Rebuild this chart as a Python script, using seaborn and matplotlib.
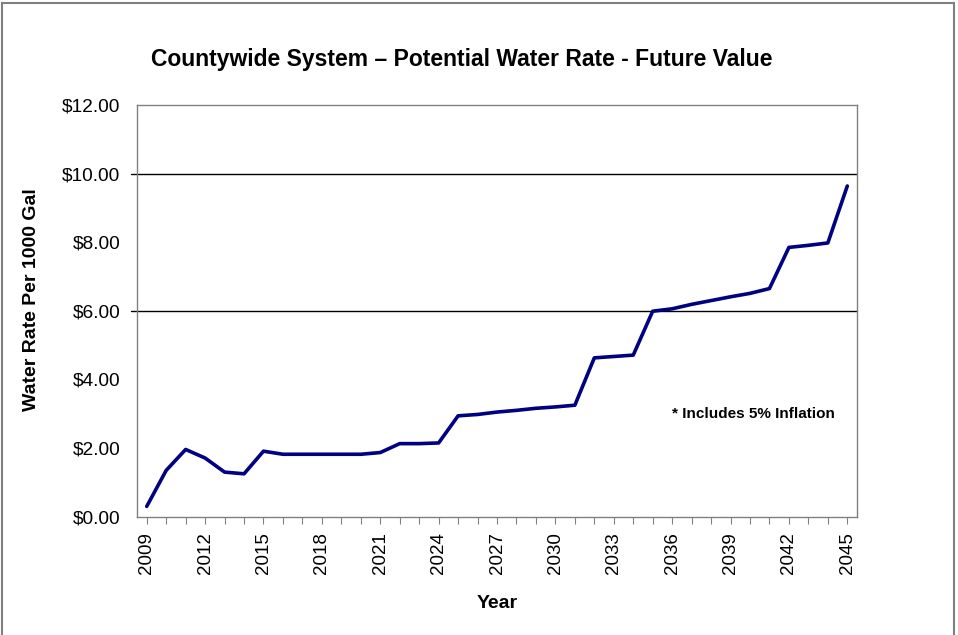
import matplotlib
matplotlib.use("Agg")
import matplotlib.pyplot as plt
import seaborn as sns
import pandas as pd
from matplotlib.patches import Rectangle

years = list(range(2009, 2046))
rates = [0.30, 1.35, 1.96, 1.71, 1.30, 1.25, 1.91, 1.82, 1.82, 1.82,
         1.82, 1.82, 1.87, 2.13, 2.13, 2.15, 2.94, 2.98, 3.05, 3.10,
         3.16, 3.20, 3.25, 4.63, 4.67, 4.71, 5.99, 6.06, 6.19, 6.30,
         6.41, 6.51, 6.65, 7.85, 7.91, 7.98, 9.64]
year_ticks = list(range(2009, 2046, 3))
rate_ticks = [0, 2, 4, 6, 8, 10, 12]
rate_labels = ["$0.00", "$2.00", "$4.00", "$6.00", "$8.00", "$10.00", "$12.00"]
grid_values = [6, 10]

df = pd.DataFrame({"Year": years, "Rate": rates})

sns.set_style("white")
plt.rcParams["font.family"] = ["Liberation Sans", "DejaVu Sans"]
plt.rcParams["text.color"] = "black"
plt.rcParams["axes.labelcolor"] = "black"
plt.rcParams["xtick.color"] = "black"
plt.rcParams["ytick.color"] = "black"

fig = plt.figure(figsize=(9.58, 6.35), dpi=100)
ax = fig.add_axes([0.143, 0.1863, 0.7516, 0.6483])

for g in grid_values:
    ax.axhline(g, color="black", lw=1.0, xmin=-0.008, xmax=1, clip_on=False, zorder=1)

sns.lineplot(data=df, x="Year", y="Rate", ax=ax, color="#000080", lw=2.6, zorder=3)

ax.set_xlim(2008.5, 2045.5)
ax.set_ylim(0, 12)
ax.set_xticks(year_ticks)
ax.set_xticks(years, minor=True)
ax.set_xticklabels([str(y) for y in year_ticks], rotation=90, fontsize=13.5)
ax.set_yticks(rate_ticks)
ax.set_yticklabels(rate_labels, fontsize=13.8)
ax.tick_params(axis="x", which="both", direction="out", length=5, width=0.8,
               color="#808080", bottom=True, pad=6, labelcolor="black")
ax.tick_params(axis="y", length=0, pad=12, labelcolor="black")

for s in ax.spines.values():
    s.set_color("#808080")
    s.set_linewidth(1.0)

ax.set_xlabel("Year", fontsize=14, fontweight="bold", labelpad=15, color="black")
ax.set_ylabel("Water Rate Per 1000 Gal", fontsize=14, fontweight="bold", labelpad=16,
              color="black")
ax.yaxis.label.set_y(0.527)
fig.text(0.482, 0.907, "Countywide System \u2013 Potential Water Rate - Future Value",
         ha="center", va="center", fontsize=16.5, fontweight="bold", color="black")
ax.text(0.743, 0.249, "* Includes 5% Inflation", transform=ax.transAxes,
        ha="left", va="center", fontsize=11, fontweight="bold", color="black")

fig.patches.append(Rectangle((0.002, -0.01), 0.994, 1.006, transform=fig.transFigure,
                             fill=False, edgecolor="#808080", lw=1.5))

fig.savefig("out.png", dpi=100)
